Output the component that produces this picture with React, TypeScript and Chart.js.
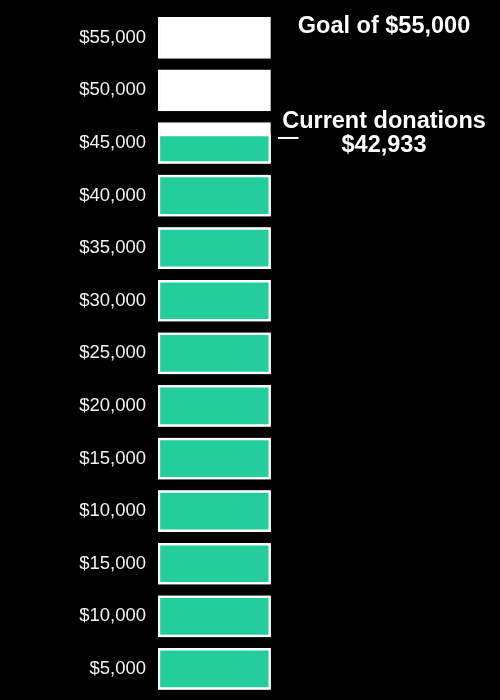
import { useEffect, useRef } from "react"
import { Chart, registerables, Plugin } from "chart.js"

Chart.register(...registerables)

// donation tiers, bottom block first (labels exactly as printed on the poster)
const tierLabels = [
  "$5,000",
  "$10,000",
  "$15,000",
  "$10,000",
  "$15,000",
  "$20,000",
  "$25,000",
  "$30,000",
  "$35,000",
  "$40,000",
  "$45,000",
  "$50,000",
  "$55,000",
]
// how much of each block is coloured in (1 = full, 0 = empty)
const tierFill = [1, 1, 1, 1, 1, 1, 1, 1, 1, 1, 0.72, 0, 0]

const goalText = "Goal of $55,000"
const currentText = ["Current donations", "$42,933"]

const GAP = 0.11 // empty space above/below each block, in block units
const GREEN = "#23ce9b"
const FONT = "'Liberation Sans', Arial, sans-serif"

const posterText: Plugin<"bar"> = {
  id: "posterText",
  afterDraw(chart) {
    const { ctx } = chart
    const y = chart.scales.y
    const cx = 384

    ctx.save()
    ctx.fillStyle = "#ffffff"
    ctx.textAlign = "center"
    ctx.textBaseline = "alphabetic"
    ctx.font = `bold 23.5px ${FONT}`

    // goal, next to the top block
    ctx.fillText(goalText, cx, y.getPixelForValue(tierLabels.length) + 21)

    // marker at the current fill level
    const idx = tierFill.findIndex((f) => f > 0 && f < 1)
    if (idx >= 0) {
      const level = idx + GAP + (1 - 2 * GAP) * tierFill[idx]
      const my = y.getPixelForValue(level) + 4
      ctx.strokeStyle = "#ffffff"
      ctx.lineWidth = 2
      ctx.beginPath()
      ctx.moveTo(278, my)
      ctx.lineTo(298.5, my)
      ctx.stroke()
      ctx.fillText(currentText[0], cx, my - 10)
      ctx.fillText(currentText[1], cx, my + 14)
    }
    ctx.restore()
  },
}

const DonationThermometer = () => {
  const chartRef = useRef<HTMLCanvasElement>(null)
  const chartInstance = useRef<Chart | null>(null)

  useEffect(() => {
    document.body.style.margin = "0"
    document.body.style.background = "#000"

    if (!chartRef.current) return
    if (chartInstance.current) {
      chartInstance.current.destroy()
    }

    const blocks = tierLabels.map((_, i) => ({ x: "tiers", y: [i + GAP, i + 1 - GAP] }))
    const filled = tierFill
      .map((f, i) => ({ f, i }))
      .filter(({ f }) => f > 0)
      .map(({ f, i }) => ({ x: "tiers", y: [i + GAP, i + GAP + (1 - 2 * GAP) * f] }))

    const ctx = chartRef.current.getContext("2d")
    if (ctx) {
      chartInstance.current = new Chart(ctx, {
        type: "bar",
        data: {
          labels: ["tiers"],
          datasets: [
            {
              // drawn on top
              label: "raised",
              data: filled as any,
              backgroundColor: GREEN,
              borderColor: "#ffffff",
              borderWidth: 2.5,
              borderSkipped: false,
              grouped: false,
              barPercentage: 1,
              categoryPercentage: 1,
            },
            {
              label: "tiers",
              data: blocks as any,
              backgroundColor: "#ffffff",
              borderColor: "#ffffff",
              borderWidth: 2.5,
              borderSkipped: false,
              grouped: false,
              barPercentage: 1,
              categoryPercentage: 1,
            },
          ],
        },
        options: {
          responsive: false,
          animation: false,
          layout: {
            padding: { top: 11.5, bottom: 4.8, left: 0, right: 229.3 },
          },
          plugins: {
            legend: { display: false },
            tooltip: { enabled: false },
          },
          scales: {
            x: {
              type: "category",
              display: false,
            },
            y: {
              type: "linear",
              min: 0,
              max: tierLabels.length,
              grid: { display: false, drawTicks: false },
              border: { display: false },
              afterBuildTicks: (scale) => {
                scale.ticks = tierLabels.map((_, i) => ({ value: i + 0.5 }))
              },
              afterFit: (scale) => {
                scale.width = 158
                scale.paddingTop = 0
                scale.paddingBottom = 0
              },
              ticks: {
                padding: 12,
                color: "#f2f2f2",
                font: { size: 18.5, family: FONT },
                callback: (value) => tierLabels[Math.round(Number(value) - 0.5)] ?? "",
              },
            },
          },
        },
        plugins: [posterText],
      })
    }

    return () => {
      if (chartInstance.current) {
        chartInstance.current.destroy()
        chartInstance.current = null
      }
    }
  }, [])

  return (
    <div style={{ width: 500, height: 700, background: "#000" }}>
      <canvas ref={chartRef} width={500} height={700} />
    </div>
  )
}

export default function App() {
  return <DonationThermometer />
}
